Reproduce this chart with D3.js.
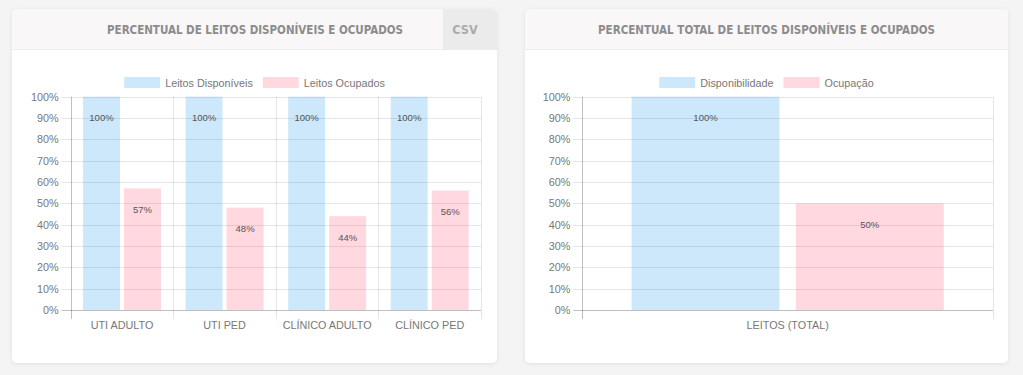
<!DOCTYPE html>
<html>
<head>
<meta charset="utf-8">
<script src="https://cdn.jsdelivr.net/npm/d3@7"></script>
<style>
  html, body { margin: 0; padding: 0; background: #f4f4f4; }
  svg { display: block; }
</style>
</head>
<body>
<div id="chart"></div>
<script>
// dados
const categories = ["UTI ADULTO", "UTI PED", "CLÍNICO ADULTO", "CLÍNICO PED"];
const disponiveis = [100, 100, 100, 100];
const ocupados = [57, 48, 44, 56];

const totalCategories = ["LEITOS (TOTAL)"];
const disponibilidade = [100];
const ocupacao = [50];

const yTicks = [0, 10, 20, 30, 40, 50, 60, 70, 80, 90, 100];

const blue = "rgba(54, 162, 235, 0.25)";
const pink = "rgba(255, 99, 132, 0.25)";
const font = "'Liberation Sans', Arial, Helvetica, sans-serif";
const titleFont = "'DejaVu Sans Condensed', 'DejaVu Sans', sans-serif";

const width = 1023, height = 375;
const svg = d3.select("#chart")
    .append("svg")
    .attr("width", width)
    .attr("height", height)
;

const defs = svg.append("defs");
const shadow = defs.append("filter").attr("id", "shadow")
    .attr("x", "-5%").attr("y", "-5%").attr("width", "110%").attr("height", "110%");
shadow.append("feDropShadow")
    .attr("dx", 0).attr("dy", 1).attr("stdDeviation", 2)
    .attr("flood-color", "#000").attr("flood-opacity", 0.08);

function card(x, w, title, titleX, titleLen, withCsv) {
    const g = svg.append("g").attr("transform", `translate(${x},9)`);
    const h = 354;
    g.append("rect")
        .attr("width", w).attr("height", h).attr("rx", 5)
        .attr("fill", "#fff")
        .attr("filter", "url(#shadow)");

    // header
    const clip = "clip" + x;
    defs.append("clipPath").attr("id", clip)
        .append("rect").attr("x", x).attr("y", 9).attr("width", w).attr("height", h).attr("rx", 5);
    const head = svg.append("g").attr("clip-path", `url(#${clip})`)
        .append("g").attr("transform", `translate(${x},9)`);
    head.append("rect").attr("width", w).attr("height", 40).attr("fill", "#f9f7f8");
    head.append("line").attr("x1", 0).attr("x2", w).attr("y1", 40.5).attr("y2", 40.5)
        .attr("stroke", "#ececec");
    if (withCsv) {
        head.append("rect").attr("x", w - 54).attr("width", 54).attr("height", 40).attr("fill", "#ebebeb");
        head.append("text")
            .attr("x", w - 32).attr("y", 24.5)
            .attr("text-anchor", "middle")
            .style("font-family", titleFont)
            .style("font-weight", "bold")
            .style("font-size", "12.5px")
            .attr("fill", "#aaaaaa")
            .text("CSV");
    }
    head.append("text")
        .attr("x", titleX).attr("y", 24.5)
        .attr("text-anchor", "middle")
        .attr("textLength", titleLen).attr("lengthAdjust", "spacingAndGlyphs")
        .style("font-family", titleFont)
        .style("font-weight", "bold")
        .style("font-size", "12.5px")
        .attr("fill", "#8c8c8c")
        .text(title);
}

card(12, 485, "PERCENTUAL DE LEITOS DISPONÍVEIS E OCUPADOS", 243, 296, true);
card(525, 483, "PERCENTUAL TOTAL DE LEITOS DISPONÍVEIS E OCUPADOS", 241.5, 337, false);

function drawChart(opts) {
    const { left, right, center, cats, series, legend } = opts;
    const top = 96.7, bottom = 310;
    const g = svg.append("g");

    const x = d3.scaleBand().domain(cats).range([left, right]);
    const y = d3.scaleLinear().domain([0, 100]).range([bottom, top]);

    // grid
    g.selectAll(".hgrid").data(yTicks).join("line")
        .attr("x1", left - 9).attr("x2", right)
        .attr("y1", d => Math.round(y(d)) + 0.5).attr("y2", d => Math.round(y(d)) + 0.5)
        .attr("stroke", d => d === 0 ? "rgba(0,0,0,0.25)" : "rgba(0,0,0,0.1)");

    const edges = cats.map(c => x(c)).concat([right]);
    g.selectAll(".vgrid").data(edges).join("line")
        .attr("x1", d => Math.round(d) + 0.5).attr("x2", d => Math.round(d) + 0.5)
        .attr("y1", top).attr("y2", bottom + 9)
        .attr("stroke", (d, i) => i === 0 ? "rgba(0,0,0,0.25)" : "rgba(0,0,0,0.1)");

    // y labels
    g.selectAll(".ylab").data(yTicks).join("text")
        .attr("x", left - 12).attr("y", d => y(d) + 4)
        .attr("text-anchor", "end")
        .style("font-family", font).style("font-size", "10.8px")
        .attr("fill", "#777")
        .text(d => d + "%");

    // x labels
    g.selectAll(".xlab").data(cats).join("text")
        .attr("x", d => x(d) + x.bandwidth() / 2).attr("y", 329)
        .attr("text-anchor", "middle")
        .style("font-family", font).style("font-size", "10.8px")
        .attr("fill", "#777")
        .text(d => d);

    // bars
    const inner = d3.scaleBand().domain(series.map((s, i) => i))
        .range([0, x.bandwidth() * 0.8]);
    series.forEach((s, si) => {
        const data = cats.map((c, i) => ({ c, v: s.values[i] }));
        const bw = inner.bandwidth() * 0.9;
        const off = x.bandwidth() * 0.1 + inner(si) + inner.bandwidth() * 0.05;
        g.selectAll(".bar" + si).data(data).join("rect")
            .attr("x", d => x(d.c) + off)
            .attr("width", bw)
            .attr("y", d => y(d.v))
            .attr("height", d => bottom - y(d.v))
            .attr("fill", s.color);
        g.selectAll(".val" + si).data(data).join("text")
            .attr("x", d => x(d.c) + off + bw / 2)
            .attr("y", d => y(d.v) + 24.5)
            .attr("text-anchor", "middle")
            .style("font-family", font).style("font-size", "9.5px")
            .attr("fill", "#555")
            .text(d => d.v + "%");
    });

    // legend, centrada no card
    const lg = g.append("g");
    let lx = 0;
    series.forEach((s, i) => {
        const it = lg.append("g");
        it.append("rect").attr("x", lx).attr("y", -5.5).attr("width", 36).attr("height", 11)
            .attr("fill", s.color);
        const t = it.append("text").attr("x", lx + 41).attr("y", 4)
            .style("font-family", font).style("font-size", "10.8px")
            .attr("fill", "#777")
            .text(legend[i]);
        lx += 41 + t.node().getComputedTextLength() + 10;
    });
    const total = lx - 10;
    lg.attr("transform", `translate(${center - total / 2},82.5)`);
}

drawChart({
    left: 70.7, right: 481, center: 254.5,
    cats: categories,
    series: [
        { values: disponiveis, color: blue },
        { values: ocupados, color: pink }
    ],
    legend: ["Leitos Disponíveis", "Leitos Ocupados"]
});

drawChart({
    left: 582.3, right: 993, center: 766.5,
    cats: totalCategories,
    series: [
        { values: disponibilidade, color: blue },
        { values: ocupacao, color: pink }
    ],
    legend: ["Disponibilidade", "Ocupação"]
});
</script>
</body>
</html>
